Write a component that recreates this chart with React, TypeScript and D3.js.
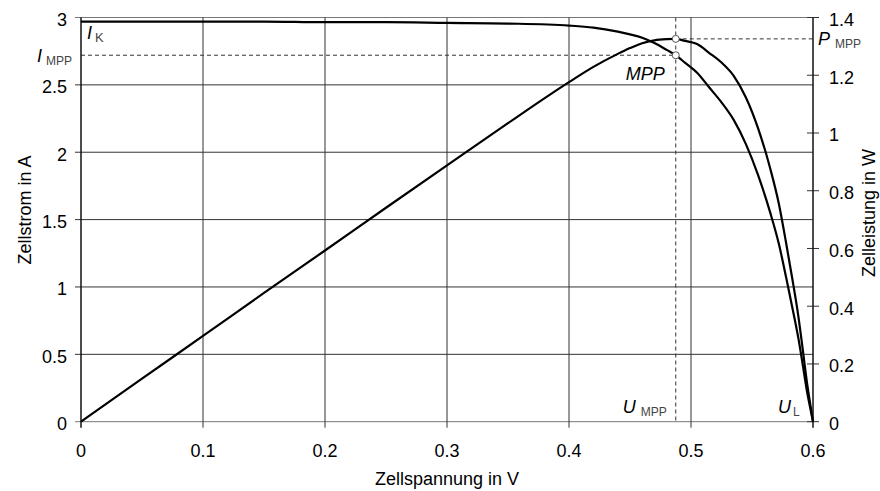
import React from 'react';
import * as d3 from 'd3';

// cell voltage in V
const voltage = [0, 0.05, 0.1, 0.15, 0.2, 0.25, 0.3, 0.35, 0.4, 0.42, 0.44, 0.45, 0.46, 0.47, 0.48, 0.4875, 0.495, 0.505, 0.515, 0.525, 0.535, 0.545, 0.555, 0.565, 0.572, 0.578, 0.583, 0.588, 0.592, 0.595, 0.598, 0.6];
// cell current in A
const current = [2.97, 2.97, 2.97, 2.97, 2.965, 2.965, 2.96, 2.955, 2.94, 2.925, 2.895, 2.875, 2.85, 2.81, 2.76, 2.72, 2.665, 2.59, 2.48, 2.37, 2.24, 2.06, 1.83, 1.55, 1.32, 1.07, 0.85, 0.62, 0.4, 0.23, 0.09, 0];
// cell power in W
const power = [0, 0.149, 0.297, 0.446, 0.593, 0.741, 0.888, 1.034, 1.176, 1.229, 1.274, 1.294, 1.311, 1.321, 1.325, 1.326, 1.319, 1.308, 1.277, 1.244, 1.198, 1.123, 1.016, 0.876, 0.755, 0.618, 0.496, 0.365, 0.237, 0.137, 0.054, 0];

const xTicks = [0, 0.1, 0.2, 0.3, 0.4, 0.5, 0.6];
const leftTicks = [0, 0.5, 1, 1.5, 2, 2.5, 3];
const rightTicks = [0, 0.2, 0.4, 0.6, 0.8, 1, 1.2, 1.4];

const mppVoltage = 0.4875;
const mppCurrent = 2.72;
const mppPower = 1.326;
const shortCircuit = 2.97;

const width = 880;
const height = 491;
const margin = { left: 81, right: 67, top: 17.5, bottom: 69.3 };
const font = '"Liberation Sans", Arial, sans-serif';

const App: React.FC = () => {
  const x = d3.scaleLinear().domain([0, 0.6]).range([margin.left, width - margin.right]);
  const yI = d3.scaleLinear().domain([0, 3]).range([height - margin.bottom, margin.top]);
  const yP = d3.scaleLinear().domain([0, 1.4]).range([height - margin.bottom, margin.top]);

  const idx = d3.range(voltage.length);
  const currentLine = d3.line<number>()
    .x(i => x(voltage[i]))
    .y(i => yI(current[i]))
    .curve(d3.curveMonotoneX);
  const powerLine = d3.line<number>()
    .x(i => x(voltage[i]))
    .y(i => yP(power[i]))
    .curve(d3.curveMonotoneX);

  const x0 = x(0), x1 = x(0.6);
  const y0 = yI(0), y1 = yI(3);
  const mx = x(mppVoltage);
  const grid = '#333';

  return (
    <svg width={width} height={height} style={{ position: 'absolute', left: 0, top: 0, background: '#fff' }} fontFamily={font}>
      {/* horizontal grid */}
      {leftTicks.map(t => (
        <line key={'h' + t} x1={x0 - 6} x2={x1} y1={yI(t)} y2={yI(t)} stroke={t === 0 || t === 3 ? '#777' : grid} strokeWidth={1} />
      ))}
      {/* vertical grid */}
      {xTicks.map(t => (
        <line key={'v' + t} x1={x(t)} x2={x(t)} y1={y1} y2={y0 + 6} stroke={grid} strokeWidth={1} />
      ))}
      {/* right axis ticks */}
      {rightTicks.map(t => (
        <line key={'r' + t} x1={x1 - 6} x2={x1 + 6} y1={yP(t)} y2={yP(t)} stroke={grid} strokeWidth={1} />
      ))}

      {/* tick labels */}
      {leftTicks.map(t => (
        <text key={'lt' + t} x={x0 - 14} y={yI(t) + 8.5} textAnchor="end" fontSize={18}>{t}</text>
      ))}
      {rightTicks.map(t => (
        <text key={'rt' + t} x={x1 + 16} y={yP(t) + 8.5} textAnchor="start" fontSize={18}>{t}</text>
      ))}
      {xTicks.map(t => (
        <text key={'xt' + t} x={x(t)} y={y0 + 35} textAnchor="middle" fontSize={18}>{t}</text>
      ))}

      {/* axis titles */}
      <text x={(x0 + x1) / 2} y={485} textAnchor="middle" fontSize={18}>Zellspannung in V</text>
      <text transform="translate(31,210) rotate(-90)" textAnchor="middle" fontSize={18}>Zellstrom in A</text>
      <text transform="translate(875,213) rotate(-90)" textAnchor="middle" fontSize={18}>Zelleistung in W</text>

      {/* MPP guide lines */}
      <line x1={x0} x2={mx} y1={yI(mppCurrent)} y2={yI(mppCurrent)} stroke={grid} strokeDasharray="4,3" />
      <line x1={mx} x2={x1} y1={yP(mppPower)} y2={yP(mppPower)} stroke={grid} strokeDasharray="4,3" />
      <line x1={mx} x2={mx} y1={y1} y2={y0} stroke={grid} strokeDasharray="4,3" />

      {/* curves */}
      <path d={currentLine(idx) ?? ''} fill="none" stroke="#000" strokeWidth={2.2} />
      <path d={powerLine(idx) ?? ''} fill="none" stroke="#000" strokeWidth={2.2} />

      {/* MPP markers */}
      <circle cx={mx} cy={yI(mppCurrent)} r={3.5} fill="#fff" stroke="#555" strokeWidth={1} />
      <circle cx={mx} cy={yP(mppPower)} r={3.5} fill="#fff" stroke="#555" strokeWidth={1} />

      {/* annotations */}
      <text x={x0 + 6} y={yI(shortCircuit) + 17} fontSize={18} fontStyle="italic">I</text>
      <text x={x0 + 14} y={yI(shortCircuit) + 20} fontSize={13} fill="#444">K</text>

      <text x={x0 - 44} y={yI(mppCurrent) + 7} fontSize={18} fontStyle="italic">I</text>
      <text x={x0 - 35} y={yI(mppCurrent) + 9.5} fontSize={12} fill="#444">MPP</text>

      <text x={x1 + 5} y={yP(mppPower) + 6} fontSize={18} fontStyle="italic">P</text>
      <text x={x1 + 22} y={yP(mppPower) + 9} fontSize={12} fill="#444">MPP</text>

      <text x={mx - 11} y={yI(mppCurrent) + 25} textAnchor="end" fontSize={18} fontStyle="italic">MPP</text>

      <text x={mx - 53} y={y0 - 8.5} fontSize={18} fontStyle="italic">U</text>
      <text x={mx - 35} y={y0 - 6} fontSize={12} fill="#444">MPP</text>

      <text x={x1 - 35} y={y0 - 8.5} fontSize={18} fontStyle="italic">U</text>
      <text x={x1 - 20} y={y0 - 6} fontSize={12} fill="#444">L</text>

      {/* axes lines */}
      <line x1={x0} x2={x0} y1={y1} y2={y0 + 6} stroke="#000" strokeWidth={1} />
      <line x1={x1} x2={x1} y1={y1} y2={y0 + 6} stroke="#000" strokeWidth={1} />
    </svg>
  );
};

export default App;
